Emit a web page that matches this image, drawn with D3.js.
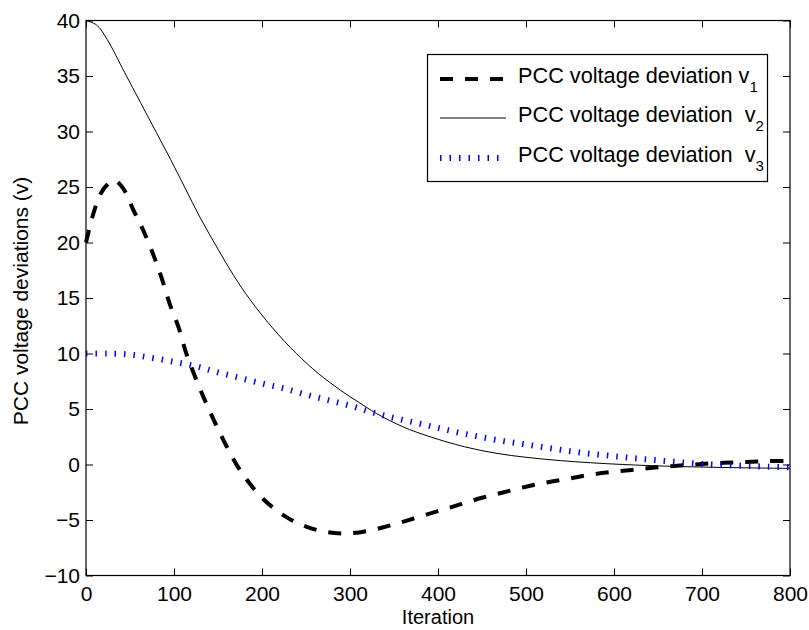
<!DOCTYPE html>
<html>
<head>
<meta charset="utf-8">
<script src="https://cdn.jsdelivr.net/npm/d3@7"></script>
<style>
  body { margin: 0; background: #fff; }
  svg { display: block; }
  text { font-family: "Liberation Sans", Arial, Helvetica, sans-serif; }
</style>
</head>
<body>
<div id="chart"></div>
<script>
// values
const v1Iter = [0, 8, 16, 24, 32, 42, 54, 65, 76, 86, 95, 105, 114, 124, 135, 147, 160, 175, 200, 225, 250, 275, 300, 325, 350, 375, 400, 425, 450, 475, 500, 525, 550, 575, 600, 625, 650, 675, 700, 725, 750, 775, 800];
const v1Vals = [20, 22.5, 24.3, 25.2, 25.6, 24.9, 22.9, 21.1, 19, 16.8, 14.5, 12.4, 10, 7.9, 5.8, 3.7, 1.6, -0.5, -3.0, -4.6, -5.6, -6.1, -6.2, -5.9, -5.4, -4.8, -4.2, -3.6, -3.0, -2.5, -2.0, -1.6, -1.25, -0.9, -0.65, -0.45, -0.25, -0.1, 0.05, 0.15, 0.23, 0.3, 0.33];

const v2Iter = [0, 12, 24, 44, 62, 80, 96, 112, 130, 150, 168, 186, 212, 239, 264, 289, 310, 330, 360, 391, 430, 467, 500, 539, 573, 610, 652, 700, 750, 800];
const v2Vals = [40, 39.6, 38.3, 35.3, 32.6, 29.9, 27.5, 25, 22.2, 19.4, 17.0, 14.9, 12.3, 10, 8.2, 6.7, 5.6, 4.6, 3.4, 2.5, 1.6, 1.0, 0.65, 0.35, 0.16, 0.0, -0.13, -0.23, -0.3, -0.35];

const v3Iter = [0, 25, 50, 75, 100, 125, 150, 175, 200, 225, 250, 275, 300, 325, 350, 375, 400, 425, 450, 475, 500, 525, 550, 575, 600, 625, 650, 675, 700, 725, 750, 775, 800];
const v3Vals = [10, 10, 9.9, 9.6, 9.25, 8.85, 8.3, 7.8, 7.3, 6.85, 6.3, 5.8, 5.3, 4.7, 4.2, 3.75, 3.3, 2.85, 2.45, 2.1, 1.8, 1.5, 1.2, 0.95, 0.75, 0.55, 0.38, 0.2, 0.05, -0.05, -0.12, -0.2, -0.25];

const xTicks = [0, 100, 200, 300, 400, 500, 600, 700, 800];
const yTicks = [-10, -5, 0, 5, 10, 15, 20, 25, 30, 35, 40];
const legendNames = ["PCC voltage deviation v", "PCC voltage deviation  v", "PCC voltage deviation  v"];
const legendSubs = ["1", "2", "3"];

const width = 809, height = 630;
const margin = { top: 20.5, right: 19, bottom: 54.5, left: 86 };
const fontSize = 21;

const svg = d3.select("#chart").append("svg")
  .attr("width", width)
  .attr("height", height);

const x = d3.scaleLinear().domain([0, 800]).range([margin.left, width - margin.right]);
const y = d3.scaleLinear().domain([-10, 40]).range([height - margin.bottom, margin.top]);

const fmt = d => d < 0 ? "\u2212" + Math.abs(d) : String(d);

// axes with inward ticks on all four sides
svg.append("g")
  .attr("transform", `translate(0,${y(-10)})`)
  .call(d3.axisBottom(x).tickValues(xTicks).tickFormat(fmt).tickSizeInner(-7).tickSizeOuter(0).tickPadding(11))
  .call(g => g.select(".domain").remove())
  .call(g => g.selectAll("text").style("font-size", fontSize + "px").attr("fill", "#000"));

svg.append("g")
  .attr("transform", `translate(0,${y(40)})`)
  .call(d3.axisTop(x).tickValues(xTicks).tickFormat("").tickSizeInner(-7).tickSizeOuter(0))
  .call(g => g.select(".domain").remove());

svg.append("g")
  .attr("transform", `translate(${x(0)},0)`)
  .call(d3.axisLeft(y).tickValues(yTicks).tickFormat(fmt).tickSizeInner(-7).tickSizeOuter(0).tickPadding(6))
  .call(g => g.select(".domain").remove())
  .call(g => g.selectAll("text").style("font-size", fontSize + "px").attr("fill", "#000"));

svg.append("g")
  .attr("transform", `translate(${x(800)},0)`)
  .call(d3.axisRight(y).tickValues(yTicks).tickFormat("").tickSizeInner(-7).tickSizeOuter(0))
  .call(g => g.select(".domain").remove());

svg.selectAll(".tick line").attr("stroke", "#000");

// lines
const series = [
  { xs: v1Iter, ys: v1Vals, stroke: "#000", width: 4, dash: "13,12" },
  { xs: v2Iter, ys: v2Vals, stroke: "#000", width: 1, dash: null },
  { xs: v3Iter, ys: v3Vals, stroke: "#0000ff", width: 6, dash: "1.5,8" }
];

const line = d3.line()
  .x(d => x(d[0]))
  .y(d => y(d[1]))
  .curve(d3.curveCatmullRom.alpha(0.5));

series.forEach(s => {
  svg.append("path")
    .datum(s.xs.map((v, i) => [v, s.ys[i]]))
    .attr("fill", "none")
    .attr("stroke", s.stroke)
    .attr("stroke-width", s.width)
    .attr("stroke-dasharray", s.dash)
    .attr("d", line);
});

// frame
svg.append("rect")
  .attr("x", x(0))
  .attr("y", y(40))
  .attr("width", x(800) - x(0))
  .attr("height", y(-10) - y(40))
  .attr("fill", "none")
  .attr("stroke", "#000")
  .attr("stroke-width", 1.2);

// axis labels
svg.append("text")
  .attr("x", (x(0) + x(800)) / 2)
  .attr("y", 624)
  .attr("text-anchor", "middle")
  .style("font-size", "20px")
  .text("Iteration");

svg.append("text")
  .attr("transform", `translate(28,${(y(40) + y(-10)) / 2 + 3}) rotate(-90)`)
  .attr("text-anchor", "middle")
  .style("font-size", "21px")
  .text("PCC voltage deviations (v)");

// legend
const legend = svg.append("g");
legend.append("rect")
  .attr("x", 427.5)
  .attr("y", 54.5)
  .attr("width", 340)
  .attr("height", 127)
  .attr("fill", "#fff")
  .attr("stroke", "#000")
  .attr("stroke-width", 1.2);

const rowY = [79, 118, 158];
series.forEach((s, i) => {
  legend.append("line")
    .attr("x1", 440).attr("x2", 506)
    .attr("y1", rowY[i]).attr("y2", rowY[i])
    .attr("stroke", s.stroke)
    .attr("stroke-width", s.width)
    .attr("stroke-dasharray", s.dash);

  const t = legend.append("text")
    .attr("x", 518)
    .attr("y", rowY[i] + 4)
    .style("font-size", "21.7px")
    .style("white-space", "pre");
  t.append("tspan").text(legendNames[i]);
  t.append("tspan")
    .attr("dy", 9)
    .style("font-size", "15px")
    .text(legendSubs[i]);
});
</script>
</body>
</html>
